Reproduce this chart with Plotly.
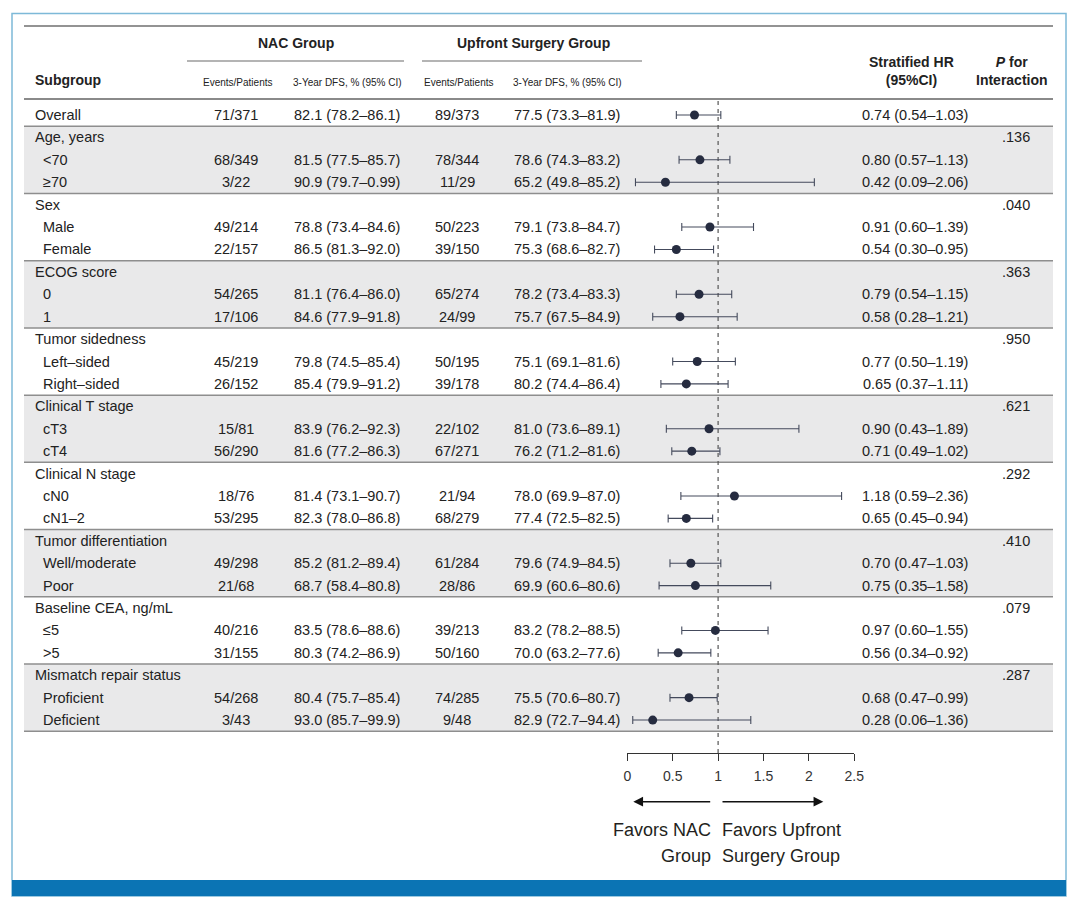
import plotly.graph_objects as go

# ---------------- data ----------------
labels = ["Overall", "Age, years", "<70", "≥70", "Sex", "Male", "Female",
          "ECOG score", "0", "1", "Tumor sidedness", "Left–sided", "Right–sided",
          "Clinical T stage", "cT3", "cT4", "Clinical N stage", "cN0", "cN1–2",
          "Tumor differentiation", "Well/moderate", "Poor",
          "Baseline CEA, ng/mL", "≤5", ">5",
          "Mismatch repair status", "Proficient", "Deficient"]

nac_events = ["71/371", "", "68/349", "3/22", "", "49/214", "22/157", "", "54/265", "17/106",
              "", "45/219", "26/152", "", "15/81", "56/290", "", "18/76", "53/295",
              "", "49/298", "21/68", "", "40/216", "31/155", "", "54/268", "3/43"]
nac_dfs = ["82.1 (78.2–86.1)", "", "81.5 (77.5–85.7)", "90.9 (79.7–0.99)", "",
           "78.8 (73.4–84.6)", "86.5 (81.3–92.0)", "", "81.1 (76.4–86.0)", "84.6 (77.9–91.8)", "",
           "79.8 (74.5–85.4)", "85.4 (79.9–91.2)", "", "83.9 (76.2–92.3)", "81.6 (77.2–86.3)", "",
           "81.4 (73.1–90.7)", "82.3 (78.0–86.8)", "", "85.2 (81.2–89.4)", "68.7 (58.4–80.8)", "",
           "83.5 (78.6–88.6)", "80.3 (74.2–86.9)", "", "80.4 (75.7–85.4)", "93.0 (85.7–99.9)"]
up_events = ["89/373", "", "78/344", "11/29", "", "50/223", "39/150", "", "65/274", "24/99",
             "", "50/195", "39/178", "", "22/102", "67/271", "", "21/94", "68/279",
             "", "61/284", "28/86", "", "39/213", "50/160", "", "74/285", "9/48"]
up_dfs = ["77.5 (73.3–81.9)", "", "78.6 (74.3–83.2)", "65.2 (49.8–85.2)", "",
          "79.1 (73.8–84.7)", "75.3 (68.6–82.7)", "", "78.2 (73.4–83.3)", "75.7 (67.5–84.9)", "",
          "75.1 (69.1–81.6)", "80.2 (74.4–86.4)", "", "81.0 (73.6–89.1)", "76.2 (71.2–81.6)", "",
          "78.0 (69.9–87.0)", "77.4 (72.5–82.5)", "", "79.6 (74.9–84.5)", "69.9 (60.6–80.6)", "",
          "83.2 (78.2–88.5)", "70.0 (63.2–77.6)", "", "75.5 (70.6–80.7)", "82.9 (72.7–94.4)"]
hr = [0.74, None, 0.80, 0.42, None, 0.91, 0.54, None, 0.79, 0.58, None, 0.77, 0.65,
      None, 0.90, 0.71, None, 1.18, 0.65, None, 0.70, 0.75, None, 0.97, 0.56, None, 0.68, 0.28]
hr_lo = [0.54, None, 0.57, 0.09, None, 0.60, 0.30, None, 0.54, 0.28, None, 0.50, 0.37,
         None, 0.43, 0.49, None, 0.59, 0.45, None, 0.47, 0.35, None, 0.60, 0.34, None, 0.47, 0.06]
hr_hi = [1.03, None, 1.13, 2.06, None, 1.39, 0.95, None, 1.15, 1.21, None, 1.19, 1.11,
         None, 1.89, 1.02, None, 2.36, 0.94, None, 1.03, 1.58, None, 1.55, 0.92, None, 0.99, 1.36]
p_interaction = ["", ".136", "", "", ".040", "", "", ".363", "", "", ".950", "", "",
                 ".621", "", "", ".292", "", "", ".410", "", "", ".079", "", "", ".287", "", ""]
axis_ticks = [0, 0.5, 1, 1.5, 2, 2.5]
axis_ticktext = ["0", "0.5", "1", "1.5", "2", "2.5"]

# ---------------- layout helpers ----------------
W, H = 1080, 902
ROW0, ROWH = 115.0, 22.41


def ry(p):
    return (p - ROW0) / ROWH


def px(x):
    return x / W


FONT = "Liberation Sans, Arial, Helvetica, sans-serif"
TXT = "#222222"
n = len(labels)

fig = go.Figure()

# invisible trace to establish the column (pixel) axis
fig.add_trace(go.Scatter(x=[0, W], y=[ry(0), ry(0)], mode="lines", xaxis="x2", yaxis="y",
                         line=dict(width=0), opacity=0, hoverinfo="skip", showlegend=False))

idx = [i for i, v in enumerate(hr) if v is not None]
fig.add_trace(go.Scatter(
    x=[hr[i] for i in idx], y=idx, mode="markers", xaxis="x", yaxis="y",
    marker=dict(size=9, color="#262c40"),
    error_x=dict(type="data", symmetric=False,
                 array=[hr_hi[i] - hr[i] for i in idx],
                 arrayminus=[hr[i] - hr_lo[i] for i in idx],
                 thickness=1.1, width=4, color="#444a5c"),
    cliponaxis=False, hoverinfo="skip", showlegend=False))

shapes = []
# shaded groups
for g in range(9):
    start = 1 + 3 * g
    if g % 2 == 0:
        shapes.append(dict(type="rect", xref="paper", yref="y", x0=px(24), x1=px(1053),
                           y0=start - 0.5, y1=start + 2.5, fillcolor="#e9e9ea",
                           line=dict(width=0), layer="below"))
# separators
for r in [0.5 + 3 * g for g in range(10)]:
    shapes.append(dict(type="line", xref="paper", yref="y", x0=px(24), x1=px(1053), y0=r, y1=r,
                       line=dict(color="#8e8e8e", width=1.5), layer="below"))
# top line, header line
shapes.append(dict(type="line", xref="paper", yref="y", x0=px(24), x1=px(1053),
                   y0=ry(26), y1=ry(26), line=dict(color="#6f6f6f", width=1.5), layer="below"))
shapes.append(dict(type="line", xref="paper", yref="y", x0=px(24), x1=px(1053),
                   y0=ry(99), y1=ry(99), line=dict(color="#8a8a8a", width=2.2), layer="below"))
# group underlines
shapes.append(dict(type="line", xref="paper", yref="y", x0=px(187), x1=px(404),
                   y0=ry(61), y1=ry(61), line=dict(color="#6a6a6a", width=1.2), layer="below"))
shapes.append(dict(type="line", xref="paper", yref="y", x0=px(422), x1=px(642),
                   y0=ry(61), y1=ry(61), line=dict(color="#6a6a6a", width=1.2), layer="below"))
# reference line at HR = 1
shapes.append(dict(type="line", xref="x", yref="y", x0=1, x1=1, y0=ry(101), y1=ry(753),
                   line=dict(color="#555555", width=1.2, dash="4px,4px"), layer="below"))
# outer frame and bottom bar
shapes.append(dict(type="rect", xref="paper", yref="paper", x0=px(12), x1=px(1066),
                   y0=1 - 896 / H, y1=1 - 13.5 / H, line=dict(color="#7db9d8", width=1.5),
                   fillcolor="rgba(0,0,0,0)", layer="below"))
shapes.append(dict(type="rect", xref="paper", yref="paper", x0=px(12), x1=px(1066),
                   y0=1 - 896 / H, y1=1 - 880 / H, line=dict(width=0),
                   fillcolor="#0b74b4", layer="above"))

ann = []


def text(x, y, s, size=14, anchor="center", bold=False, color=TXT, yanchor="middle"):
    if bold:
        s = "<b>" + s + "</b>"
    ann.append(dict(xref="x2", yref="y", x=x, y=y, text=s, showarrow=False,
                    xanchor=anchor, yanchor=yanchor,
                    font=dict(family=FONT, size=size, color=color)))


# headers
text(296, ry(43), "NAC Group", bold=True)
text(533, ry(43), "Upfront Surgery Group", bold=True)
text(32.5, ry(80), "Subgroup", anchor="left", bold=True)
text(237, ry(82), "Events/Patients", size=10)
text(347, ry(82), "3-Year DFS, % (95% CI)", size=10)
text(458, ry(82), "Events/Patients", size=10)
text(567, ry(82), "3-Year DFS, % (95% CI)", size=10)
text(911, ry(71), "Stratified HR<br>(95%CI)", bold=True)
text(1012, ry(71), "<i>P</i> for<br>Interaction", bold=True)

for i in range(n):
    indent = (i > 0 and hr[i] is not None)
    text(40.5 if indent else 32.5, i, labels[i], anchor="left", size=14.5)
    if nac_events[i]:
        text(236, i, nac_events[i], size=14.5)
        text(347, i, nac_dfs[i], size=14.5)
        text(457, i, up_events[i], size=14.5)
        text(567, i, up_dfs[i], size=14.5)
        text(915, i, f"{hr[i]:.2f} ({hr_lo[i]:.2f}–{hr_hi[i]:.2f})", size=14.5)
    if p_interaction[i]:
        text(1032, i, p_interaction[i], anchor="right", size=14.5)

# arrows
ya = ry(801.7)
ann.append(dict(xref="x2", yref="y", axref="x2", ayref="y", x=633.3, y=ya, ax=711.7, ay=ya,
                text="", showarrow=True, arrowhead=2, arrowsize=1.3, arrowwidth=1.5,
                arrowcolor="#111111"))
ann.append(dict(xref="x2", yref="y", axref="x2", ayref="y", x=823.3, y=ya, ax=721.0, ay=ya,
                text="", showarrow=True, arrowhead=2, arrowsize=1.3, arrowwidth=1.5,
                arrowcolor="#111111"))
text(713, ry(830), "Favors NAC", size=18, anchor="right", color="#231f20")
text(713, ry(856), "Group", size=18, anchor="right", color="#231f20")
text(719.5, ry(830), "Favors Upfront", size=18, anchor="left", color="#231f20")
text(719.5, ry(856), "Surgery Group", size=18, anchor="left", color="#231f20")

fig.update_layout(
    width=W, height=H, margin=dict(l=0, r=0, t=0, b=0, autoexpand=False),
    paper_bgcolor="white", plot_bgcolor="rgba(0,0,0,0)",
    showlegend=False, shapes=shapes, annotations=ann,
    xaxis=dict(domain=[627.3 / W, 854.3 / W], range=[0, 2.5], anchor="free",
               position=1 - 753.3 / H, showline=True, linecolor="#333333", linewidth=1,
               ticks="outside", ticklen=7, tickwidth=1, tickcolor="#333333",
               tickvals=axis_ticks, ticktext=axis_ticktext,
               tickfont=dict(family=FONT, size=14, color="#333333"), automargin=False,
               showgrid=False, zeroline=False, fixedrange=True, ticklabelstandoff=3),
    xaxis2=dict(domain=[0, 1], range=[0, W], anchor="y", visible=False, fixedrange=True,
                automargin=False),
    yaxis=dict(domain=[0, 1], range=[ry(H), ry(0)], visible=False, fixedrange=True,
               automargin=False),
)

fig.write_html(
    "out.html",
    post_script=("document.documentElement.style.margin='0';"
                 "document.documentElement.style.overflow='hidden';"
                 "document.body.style.margin='0';document.body.style.padding='0';"
                 "document.body.style.overflow='hidden';"),
    config={"displayModeBar": False})
